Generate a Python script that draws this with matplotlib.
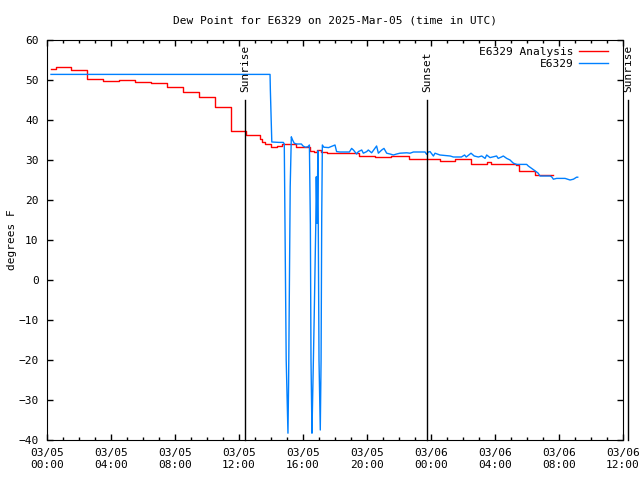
import matplotlib
matplotlib.use("Agg")
import matplotlib.pyplot as plt
from matplotlib.ticker import MultipleLocator

# hours since 2025-03-05 00:00 UTC
red_t = [0.25, 0.56, 1.5, 2.5, 3.5, 4.5, 5.5, 6.5, 7.5, 8.5, 9.5, 10.5, 11.5, 12.45,
         13.3, 13.45, 13.6, 14.0, 14.4, 14.7, 15.55, 16.45, 16.7, 16.9, 17.1, 17.5,
         18.5, 19.5, 20.5, 21.5, 22.6, 24.56, 25.5, 26.5, 27.5, 27.75, 29.3, 29.5,
         30.5, 31.6]
red_v = [52.7, 53.2, 52.5, 50.2, 49.75, 50.0, 49.5, 49.2, 48.2, 46.9, 45.7, 43.2, 37.2, 36.25,
         35.3, 34.5, 34.0, 33.3, 33.6, 33.9, 33.2, 32.3, 32.1, 32.4, 32.1, 31.8,
         31.7, 31.1, 30.8, 31.0, 30.3, 29.75, 30.2, 29.1, 29.5, 29.0, 28.75, 27.25,
         26.25, 26.25]

blue_t = [0.25, 13.94, 13.96, 14.05, 14.5, 14.77, 14.83, 14.87, 14.95, 15.06, 15.1, 15.15,
          15.2, 15.27, 15.35, 15.45, 15.6, 15.9, 16.0, 16.15, 16.3, 16.4, 16.46, 16.5,
          16.56, 16.6, 16.65, 16.7, 16.75, 16.8, 16.83, 16.88, 16.93, 17.0, 17.08, 17.13,
          17.17, 17.21, 17.3, 17.6, 18.0, 18.1, 18.3, 18.9, 19.04, 19.15, 19.35, 19.46,
          19.67, 19.77, 19.98, 20.08, 20.29, 20.6, 20.71, 20.92, 21.06, 21.23, 21.44,
          21.65, 21.85, 22.06, 22.48, 22.69, 22.9, 23.63, 23.73, 23.83, 23.94, 24.15,
          24.25, 24.56, 25.2, 25.4, 25.9, 26.1, 26.2, 26.44, 26.5, 26.7, 26.96, 27.17,
          27.38, 27.48, 27.69, 28.1, 28.2, 28.4, 28.52, 28.73, 28.94, 29.04, 29.15,
          29.35, 29.98, 30.08, 30.29, 30.5, 30.7, 30.81, 31.44, 31.54, 31.65, 31.85,
          32.38, 32.69, 32.9, 33.1, 33.17]
blue_v = [51.4, 51.4, 47.5, 34.5, 34.4, 34.4, 34.0, 15.8, -20.0, -38.3, -25.8, -1.2,
          23.3, 35.8, 35.0, 34.2, 34.0, 34.0, 33.5, 33.2, 33.3, 33.75, 14.0, -20.0,
          -38.3, -30.0, -20.0, -9.2, 2.5, 14.2, 25.8, 14.2, 32.3, -20.0, -37.5, -20.0,
          15.8, 33.75, 33.2, 33.1, 33.75, 32.1, 32.0, 32.0, 32.9, 32.5, 31.5, 32.1,
          32.5, 31.7, 32.1, 32.5, 31.8, 33.5, 31.7, 32.5, 32.9, 31.7, 31.5,
          31.25, 31.5, 31.7, 31.8, 31.7, 32.0, 32.0, 31.4, 32.0, 32.1, 31.0,
          31.7, 31.25, 31.0, 30.75, 30.75, 31.25, 30.75, 31.5, 31.7, 31.0, 30.75, 31.0,
          30.4, 31.25, 30.6, 31.0, 30.4, 30.75, 31.0, 30.4, 30.0, 29.6, 29.2,
          28.9, 28.9, 28.5, 27.9, 27.3, 26.7, 26.0, 26.0, 25.8, 25.2, 25.4,
          25.4, 25.0, 25.2, 25.7, 25.7]

event_t = [12.375, 23.75, 36.3]
event_lbl = ["Sunrise", "Sunset", "Sunrise"]

xticks = list(range(0, 37, 4))
xlabels = ["03/05\n00:00", "03/05\n04:00", "03/05\n08:00", "03/05\n12:00", "03/05\n16:00",
           "03/05\n20:00", "03/06\n00:00", "03/06\n04:00", "03/06\n08:00", "03/06\n12:00"]

plt.rcParams['font.family'] = ['DejaVu Sans Mono']
plt.rcParams['font.size'] = 8

fig = plt.figure(figsize=(6.4, 4.8), dpi=100)
ax = fig.add_axes([47/640, 40/480, 576/640, 400/480])

ax.plot(red_t, red_v, color='#ff0000', lw=1, drawstyle='steps-post', label='E6329 Analysis')
ax.plot(blue_t, blue_v, color='#0080ff', lw=1, label='E6329')

for t, lbl in zip(event_t, event_lbl):
    ax.plot([t, t], [-40, 45], color='black', lw=1, clip_on=False)
    ax.text(t, 47, lbl, rotation=90, ha='center', va='bottom', fontsize=8, clip_on=False)

ax.set_xlim(0, 36)
ax.set_ylim(-40, 60)
ax.set_xticks(xticks)
ax.set_xticklabels(xlabels)
ax.xaxis.set_minor_locator(MultipleLocator(1))
ax.yaxis.set_major_locator(MultipleLocator(10))
ax.tick_params(which='both', direction='in', top=True, right=True)
ax.tick_params(which='major', length=4.5, width=1, pad=6)
ax.tick_params(which='minor', length=2.2, width=1)

ax.set_title("Dew Point for E6329 on 2025-Mar-05 (time in UTC)", fontsize=8, pad=12)
ax.set_ylabel("degrees F", labelpad=1)

ax.legend(loc='upper right', bbox_to_anchor=(0.986, 1.0), frameon=False, markerfirst=False,
          handlelength=2.6, borderaxespad=0.2, labelspacing=0.2, handletextpad=0.5)

fig.savefig("out.png", dpi=100)
